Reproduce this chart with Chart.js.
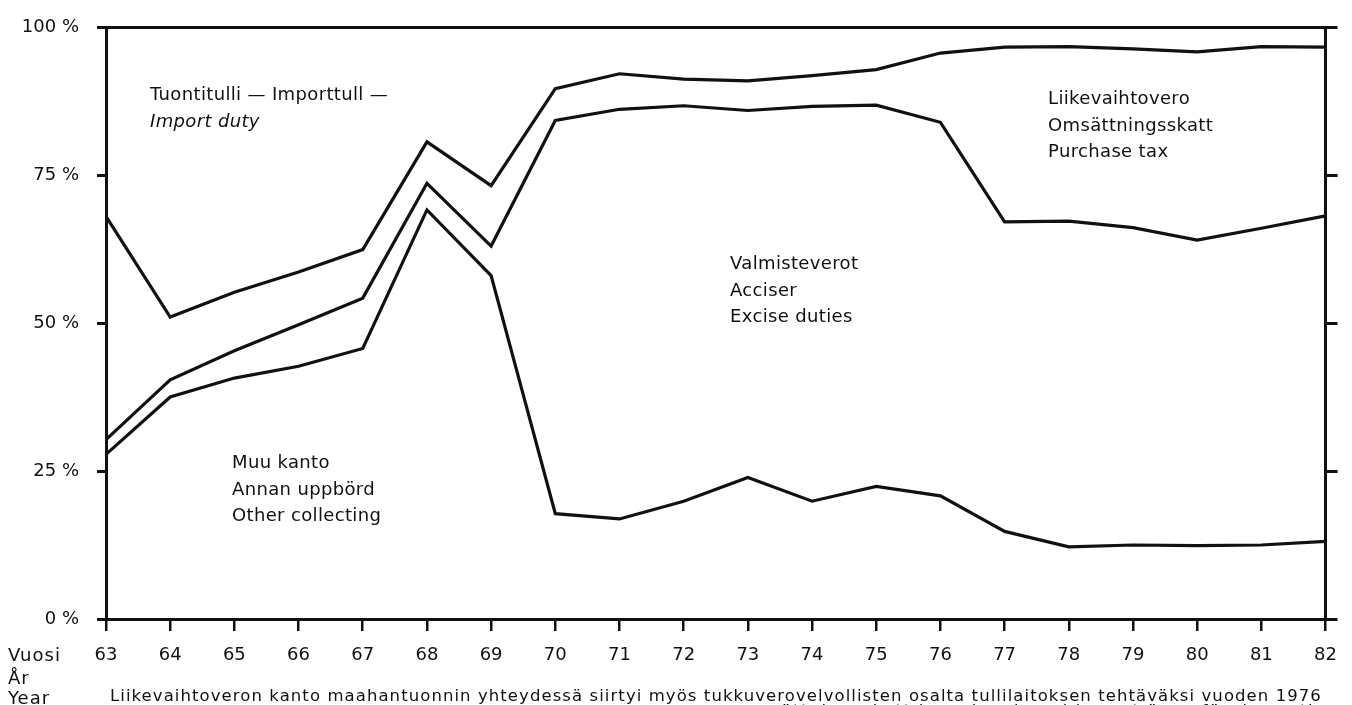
<!DOCTYPE html>
<html>
<head>
<meta charset="utf-8">
<script src="https://cdn.jsdelivr.net/npm/chart.js@4"></script>
<style>
  html, body { margin: 0; padding: 0; background: #fff; }
  #wrap { position: absolute; left: 0; top: 0; width: 1352px; height: 705px; overflow: hidden; }
  #wrap canvas { position: absolute; left: 0; top: 0; }
  .lbl { position: absolute; font-family: "DejaVu Sans", sans-serif; font-size: 18px; letter-spacing: 0.35px; color: #111; white-space: nowrap; line-height: 26.5px; }
  .side { position: absolute; left: 8px; font-family: "DejaVu Sans", sans-serif; font-size: 18px; letter-spacing: 1px; color: #111; line-height: 20px; }
  .note { position: absolute; left: 110px; font-family: "DejaVu Sans", sans-serif; font-size: 16.5px; color: #111; line-height: 20px; white-space: nowrap; }
</style>
</head>
<body>
<div id="wrap">
  <canvas id="c" width="1352" height="705"></canvas>
  <div class="lbl" style="left:150px; top:80px; line-height:27px;">Tuontitulli — Importtull —<br><i>Import duty</i></div>
  <div class="lbl" style="left:1048px; top:85px;">Liikevaihtovero<br>Omsättningsskatt<br>Purchase tax</div>
  <div class="lbl" style="left:730px; top:250px;">Valmisteverot<br>Acciser<br>Excise duties</div>
  <div class="lbl" style="left:232px; top:449px;">Muu kanto<br>Annan uppbörd<br>Other collecting</div>
  <div class="side" style="top:645px;">Vuosi</div>
  <div class="side" style="top:668px;">År</div>
  <div class="side" style="top:688px;">Year</div>
  <div class="note" id="note1" data-w="1212" style="top:686px;">Liikevaihtoveron kanto maahantuonnin yhteydessä siirtyi myös tukkuverovelvollisten osalta tullilaitoksen tehtäväksi vuoden 1976</div>
  <div class="note" id="note2" style="top:701px; left:auto; right:30px; letter-spacing:1.7px;">omsättningsskatt i samband med import även för de parti-</div>
</div>
<script>
// Years (x categories)
const years = ['63','64','65','66','67','68','69','70','71','72','73','74','75','76','77','78','79','80','81','82'];
// Upper boundary of "Other collecting" (%)
const otherCollectingTop = [27.8, 37.5, 40.7, 42.7, 45.7, 69.1, 58.0, 17.8, 16.9, 19.9, 23.9, 19.9, 22.4, 20.8, 14.8, 12.2, 12.5, 12.4, 12.5, 13.1];
// Upper boundary of "Excise duties" (cumulative %)
const exciseTop = [30.3, 40.4, 45.3, 49.7, 54.2, 73.6, 63.0, 84.2, 86.1, 86.7, 85.9, 86.6, 86.8, 83.9, 67.1, 67.2, 66.1, 64.0, 66.0, 68.1];
// Upper boundary of "Purchase tax" (cumulative %); above it: import duty
const purchaseTaxTop = [68.0, 51.0, 55.2, 58.6, 62.4, 80.6, 73.2, 89.6, 92.1, 91.2, 90.9, 91.8, 92.8, 95.6, 96.6, 96.7, 96.3, 95.8, 96.7, 96.6];
// Y tick values
const yTicks = [0, 25, 50, 75, 100];

// fit footnote to its printed width with letter spacing
(function () {
  const n = document.getElementById('note1');
  const target = +n.dataset.w;
  const w = n.getBoundingClientRect().width;
  const chars = n.textContent.length;
  n.style.letterSpacing = ((target - w) / chars).toFixed(3) + 'px';
})();

const font = { family: 'DejaVu Sans', size: 18, lineHeight: 1 };
const lineDs = (data) => ({
  data, borderColor: '#111', borderWidth: 3.2, pointRadius: 0, fill: false, tension: 0,
  borderJoinStyle: 'miter', yAxisID: 'y', xAxisID: 'x'
});

new Chart(document.getElementById('c'), {
  type: 'line',
  data: {
    labels: years,
    datasets: [lineDs(otherCollectingTop), lineDs(exciseTop), lineDs(purchaseTaxTop)]
  },
  options: {
    responsive: false,
    devicePixelRatio: 1,
    animation: false,
    events: [],
    layout: { padding: { top: -8, left: 0, right: 0, bottom: 0 } },
    plugins: { legend: { display: false }, tooltip: { enabled: false }, title: { display: false } },
    scales: {
      x: {
        type: 'category', position: 'bottom', offset: false,
        grid: { display: true, drawOnChartArea: false, drawTicks: true, tickLength: 12, color: '#111', lineWidth: 2.5 },
        border: { display: true, color: '#111', width: 3 },
        ticks: { color: '#111', font, padding: 15, maxRotation: 0, autoSkip: false },
        afterFit: (s) => { s.height = 86; }
      },
      xTop: {
        type: 'category', position: 'top', offset: false,
        grid: { display: true, drawOnChartArea: false, drawTicks: false },
        border: { display: true, color: '#111', width: 3 },
        ticks: { display: false },
        afterFit: (s) => { s.height = 9; }
      },
      y: {
        type: 'linear', position: 'left', min: 0, max: 100,
        afterBuildTicks: (s) => { s.ticks = yTicks.map(v => ({ value: v })); },
        grid: { display: true, drawOnChartArea: false, drawTicks: true, tickLength: 9, color: '#111', lineWidth: 3 },
        border: { display: true, color: '#111', width: 3 },
        ticks: { color: '#111', font, padding: 18, callback: (v) => v + ' %' },
        afterFit: (s) => { s.width = 106; }
      },
      yRight: {
        type: 'linear', position: 'right', min: 0, max: 100,
        afterBuildTicks: (s) => { s.ticks = yTicks.map(v => ({ value: v })); },
        grid: { display: true, drawOnChartArea: false, drawTicks: true, tickLength: 12, color: '#111', lineWidth: 3 },
        border: { display: true, color: '#111', width: 3 },
        ticks: { display: false },
        afterFit: (s) => { s.width = 26; }
      }
    }
  }
});
</script>
</body>
</html>
